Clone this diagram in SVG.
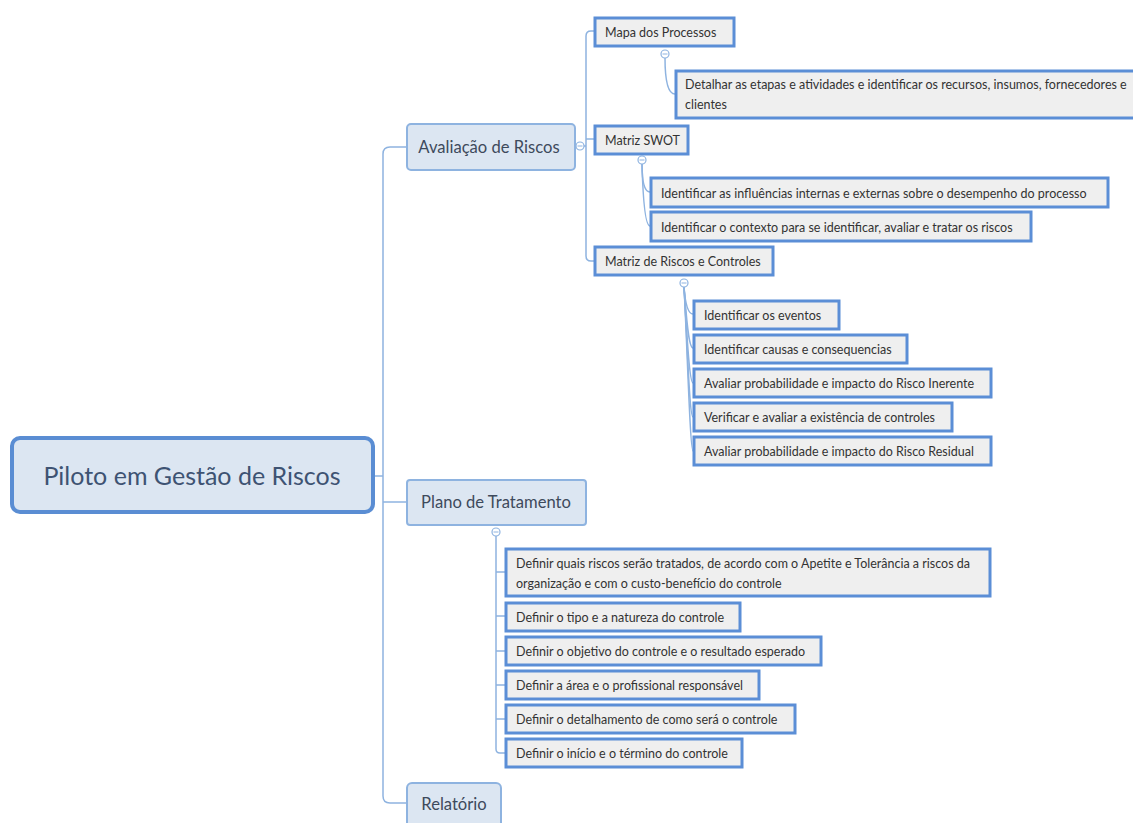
<svg xmlns="http://www.w3.org/2000/svg" width="1133" height="823" viewBox="0 0 1133 823">
<style>
text{font-family:Lato,"Open Sans","Liberation Sans",sans-serif}
.root{fill:#dce6f2;stroke:#5a8dd3;stroke-width:4}
.main{fill:#dce6f2;stroke:#8eb3e0;stroke-width:2}
.leaf{fill:#efefef;stroke:#5b8ed6;stroke-width:3}
.tr{font-size:25px;fill:#3e5373}
.tm{font-size:16.6px;fill:#3e4a5c}
.tl{font-size:12.5px;fill:#333}
.c{fill:none;stroke:#8eb3e0;stroke-width:1.5}
.col{fill:#fff;stroke:#8eb3e0;stroke-width:1.2}
.dash{stroke:#8eb3e0;stroke-width:1}
</style>
<rect width="1133" height="823" fill="#fff"/>
<g id="connectors">
<path class="c" d="M374,476 H383"/>
<path class="c" d="M406,147 H390 Q383,147 383,154 V796 Q383,803 390,803 H406"/>
<path class="c" d="M383,502 H406"/>
<path class="c" d="M584,146 H586"/>
<path class="c" d="M594,31 H591 Q586,31 586,36 V256 Q586,261 591,261 H594"/>
<path class="c" d="M586,139 H594"/>
<path class="c" d="M665,58 C665,80 668,94 675,94"/>
<path class="c" d="M642,164 C642,180 644,192 650,192"/>
<path class="c" d="M642,164 C643,200 645,226 650,226"/>
<path class="c" d="M684,287 C685,300 687,314 693,314"/>
<path class="c" d="M684,287 C686,310 688,348 693,348"/>
<path class="c" d="M684,287 C686,320 689,383 693,383"/>
<path class="c" d="M684,287 C687,330 689,417 693,417"/>
<path class="c" d="M684,287 C687,340 690,451 693,451"/>
<path class="c" d="M496,536 V749 Q496,753 500,753 H505"/>
<path class="c" d="M496,572 H505 M496,616 H505 M496,651 H505 M496,685 H505 M496,719 H505"/>
<circle class="col" cx="580" cy="146" r="4"/><line class="dash" x1="577.5" y1="146" x2="582.5" y2="146"/>
<circle class="col" cx="665" cy="54" r="4"/><line class="dash" x1="662.5" y1="54" x2="667.5" y2="54"/>
<circle class="col" cx="642" cy="160" r="4"/><line class="dash" x1="639.5" y1="160" x2="644.5" y2="160"/>
<circle class="col" cx="684" cy="283" r="4"/><line class="dash" x1="681.5" y1="283" x2="686.5" y2="283"/>
<circle class="col" cx="496" cy="532" r="4"/><line class="dash" x1="493.5" y1="532" x2="498.5" y2="532"/>
</g>
<g id="root"><rect class="root" x="12" y="438" width="361" height="74" rx="8"/><text class="tr" x="192" y="485" text-anchor="middle">Piloto em Gestão de Riscos</text></g>
<g id="avaliacao"><rect class="main" x="407" y="124" width="168" height="46" rx="4"/><text class="tm" x="489" y="153" text-anchor="middle">Avaliação de Riscos</text></g>
<g id="plano"><rect class="main" x="407" y="480" width="179" height="45" rx="3"/><text class="tm" x="496" y="508" text-anchor="middle">Plano de Tratamento</text></g>
<g id="relatorio"><rect class="main" x="407" y="783" width="94" height="50" rx="5"/><text class="tm" x="454" y="810" text-anchor="middle">Relatório</text></g>
<g id="mapa"><rect class="leaf" x="595" y="18" width="139" height="28"/><text class="tl" x="605" y="37">Mapa dos Processos</text></g>
<g id="detalhar"><rect class="leaf" x="676" y="71" width="470" height="47"/><text class="tl" x="685" y="89">Detalhar as etapas e atividades e identificar os recursos, insumos, fornecedores e</text><text class="tl" x="685" y="109">clientes</text></g>
<g id="swot"><rect class="leaf" x="595" y="126" width="93" height="28"/><text class="tl" x="605" y="145">Matriz SWOT</text></g>
<g id="influencias"><rect class="leaf" x="651" y="178" width="457" height="29"/><text class="tl" x="661" y="198">Identificar as influências internas e externas sobre o desempenho do processo</text></g>
<g id="contexto"><rect class="leaf" x="651" y="212" width="380" height="29"/><text class="tl" x="661" y="232">Identificar o contexto para se identificar, avaliar e tratar os riscos</text></g>
<g id="matriz"><rect class="leaf" x="595" y="247" width="178" height="28"/><text class="tl" x="605" y="266">Matriz de Riscos e Controles</text></g>
<g id="eventos"><rect class="leaf" x="694" y="301" width="145" height="28"/><text class="tl" x="704" y="320">Identificar os eventos</text></g>
<g id="causas"><rect class="leaf" x="694" y="335" width="213" height="28"/><text class="tl" x="704" y="354">Identificar causas e consequencias</text></g>
<g id="inerente"><rect class="leaf" x="694" y="369" width="297" height="28"/><text class="tl" x="704" y="388">Avaliar probabilidade e impacto do Risco Inerente</text></g>
<g id="verificar"><rect class="leaf" x="694" y="403" width="258" height="28"/><text class="tl" x="704" y="422">Verificar e avaliar a existência de controles</text></g>
<g id="residual"><rect class="leaf" x="694" y="437" width="297" height="28"/><text class="tl" x="704" y="456">Avaliar probabilidade e impacto do Risco Residual</text></g>
<g id="definir1"><rect class="leaf" x="506" y="549" width="484" height="47"/><text class="tl" x="516" y="568">Definir quais riscos serão tratados, de acordo com o Apetite e Tolerância a riscos da</text><text class="tl" x="516" y="588">organização e com o custo-benefício do controle</text></g>
<g id="definir2"><rect class="leaf" x="506" y="603" width="234" height="28"/><text class="tl" x="516" y="622">Definir o tipo e a natureza do controle</text></g>
<g id="definir3"><rect class="leaf" x="506" y="637" width="315" height="28"/><text class="tl" x="516" y="656">Definir o objetivo do controle e o resultado esperado</text></g>
<g id="definir4"><rect class="leaf" x="506" y="671" width="253" height="28"/><text class="tl" x="516" y="690">Definir a área e o profissional responsável</text></g>
<g id="definir5"><rect class="leaf" x="506" y="705" width="289" height="28"/><text class="tl" x="516" y="724">Definir o detalhamento de como será o controle</text></g>
<g id="definir6"><rect class="leaf" x="506" y="739" width="236" height="28"/><text class="tl" x="516" y="758">Definir o início e o término do controle</text></g>
</svg>
